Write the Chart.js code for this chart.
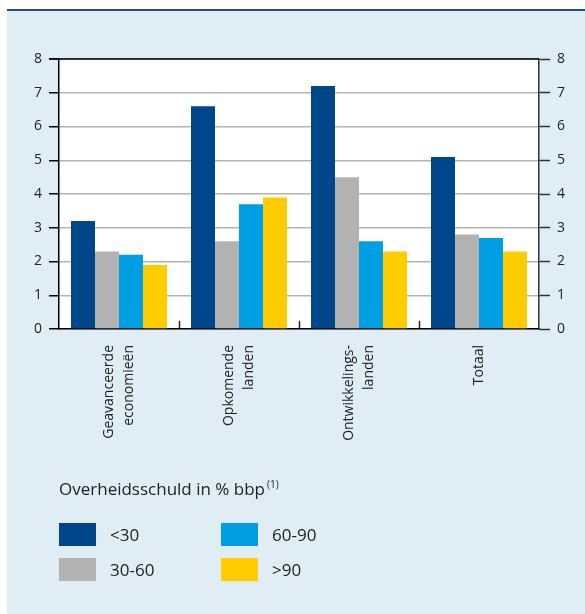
<!DOCTYPE html>
<html>
<head>
<meta charset="utf-8">
<title>Overheidsschuld</title>
<script src="https://cdn.jsdelivr.net/npm/chart.js@4.4.1/dist/chart.umd.min.js"></script>
<style>
  html, body { margin: 0; padding: 0; background: #ffffff; }
  #wrap { position: relative; width: 585px; height: 614px; overflow: hidden; font-family: "Open Sans", sans-serif; color: #222; }
  #panel { position: absolute; left: 7px; top: 9px; right: 0; bottom: 0; background: #e1edf5; border-top: 2px solid #1a4f8f; }
  #chart { position: absolute; left: 0; top: 0; }
  #legendTitle { position: absolute; left: 59px; top: 477px; font-size: 17px; line-height: 24px; white-space: nowrap; }
  #legendTitle sup { font-size: 10px; vertical-align: 0; position: relative; top: -7px; margin-left: 2px; }
  .sw { position: absolute; width: 37px; height: 23px; }
  .lb { position: absolute; font-size: 17px; line-height: 23px; white-space: nowrap; }
</style>
</head>
<body>
<div id="wrap">
  <div id="panel"></div>
  <canvas id="chart" width="585" height="614"></canvas>
  <div id="legendTitle">Overheidsschuld in % bbp<sup>(1)</sup></div>
  <div id="legend"></div>
</div>
<script>
// Categories (multi-line labels) and series
const categories = [
  ['Geavanceerde', 'economieën'],
  ['Opkomende', 'landen'],
  ['Ontwikkelings-', 'landen'],
  ['Totaal']
];
const seriesLabels = ['<30', '30-60', '60-90', '>90'];
const seriesColors = ['#00468b', '#b2b2b2', '#009fe3', '#ffcc00'];

const debtBelow30 = [3.2, 6.6, 7.2, 5.1];
const debt30to60  = [2.3, 2.6, 4.5, 2.8];
const debt60to90  = [2.2, 3.7, 2.6, 2.7];
const debtAbove90 = [1.9, 3.9, 2.3, 2.3];

const yMin = 0, yMax = 8, yStep = 1;

const seriesValues = [debtBelow30, debt30to60, debt60to90, debtAbove90];

const FONT = '"Open Sans", sans-serif';
const TEXT = '#222222';

// White plot background, black top frame line, group separators and rotated category labels
const framePlugin = {
  id: 'frame',
  beforeDraw(chart) {
    const { ctx, chartArea: a } = chart;
    ctx.save();
    ctx.fillStyle = '#ffffff';
    ctx.fillRect(a.left, a.top, a.right - a.left, a.bottom - a.top);
    ctx.restore();
  },
  afterDraw(chart) {
    const { ctx, chartArea: a } = chart;
    const xs = chart.scales.x;
    ctx.save();
    // top frame
    ctx.strokeStyle = '#000000';
    ctx.lineWidth = 1.5;
    ctx.beginPath();
    ctx.moveTo(a.left - 10, a.top);
    ctx.lineTo(a.right, a.top);
    ctx.stroke();
    // separators between groups, pointing into the plot
    ctx.lineWidth = 1.5;
    ctx.strokeStyle = '#222222';
    for (let i = 1; i < categories.length; i++) {
      const x = Math.round((xs.getPixelForTick(i - 1) + xs.getPixelForTick(i)) / 2) + 0.5;
      ctx.beginPath();
      ctx.moveTo(x, a.bottom - 8);
      ctx.lineTo(x, a.bottom);
      ctx.stroke();
    }
    // rotated category labels
    ctx.fillStyle = TEXT;
    ctx.font = '14px ' + FONT;
    ctx.textAlign = 'right';
    ctx.textBaseline = 'middle';
    const lh = 20;
    categories.forEach((lines, i) => {
      const cx = xs.getPixelForTick(i);
      lines.forEach((txt, j) => {
        const x = cx + (j - (lines.length - 1) / 2) * lh;
        ctx.save();
        ctx.translate(x, a.bottom + 16);
        ctx.rotate(-Math.PI / 2);
        ctx.fillText(txt, 0, 0);
        ctx.restore();
      });
    });
    ctx.restore();
  }
};

new Chart(document.getElementById('chart'), {
  type: 'bar',
  data: {
    labels: categories.map(c => c.join(' ')),
    datasets: seriesLabels.map((lab, i) => ({
      label: lab,
      data: seriesValues[i],
      backgroundColor: seriesColors[i],
      borderWidth: 0,
      categoryPercentage: 0.8,
      barPercentage: 1.0
    }))
  },
  options: {
    responsive: false,
    animation: false,
    devicePixelRatio: 1,
    layout: { padding: { top: 59, left: 0, right: 0, bottom: 0 } },
    plugins: {
      legend: { display: false },
      tooltip: { enabled: false },
      title: { display: false }
    },
    scales: {
      x: {
        position: 'bottom',
        grid: { display: true, drawOnChartArea: false, drawTicks: false },
        border: { display: true, color: '#000000', width: 1.5 },
        ticks: { display: false },
        afterFit(scale) { scale.height = 285; }
      },
      y: {
        position: 'left',
        min: yMin, max: yMax,
        grid: {
          color: '#b3b3b3', lineWidth: 1.5,
          tickColor: '#000000', tickLength: 10, tickWidth: 1.5
        },
        border: { display: true, color: '#000000', width: 1.5 },
        ticks: { stepSize: yStep, padding: 7, color: TEXT, font: { family: FONT, size: 14 } },
        afterFit(scale) { scale.width = 59; }
      },
      y2: {
        position: 'right',
        min: yMin, max: yMax,
        grid: {
          drawOnChartArea: false,
          tickColor: '#333333', tickLength: 11, tickWidth: 1.5
        },
        border: { display: true, color: '#333333', width: 1.5 },
        ticks: { stepSize: yStep, padding: 7, color: TEXT, font: { family: FONT, size: 14 } },
        afterFit(scale) { scale.width = 46; }
      }
    }
  },
  plugins: [framePlugin]
});

// Legend: two columns, two rows
const legend = document.getElementById('legend');
const colX = [59, 221], rowY = [523, 558], labelGap = 51;
seriesLabels.forEach((lab, i) => {
  const col = Math.floor(i / 2), row = i % 2;
  const sw = document.createElement('div');
  sw.className = 'sw';
  sw.style.left = colX[col] + 'px';
  sw.style.top = rowY[row] + 'px';
  sw.style.background = seriesColors[i];
  legend.appendChild(sw);
  const lb = document.createElement('div');
  lb.className = 'lb';
  lb.style.left = (colX[col] + labelGap) + 'px';
  lb.style.top = rowY[row] + 'px';
  lb.textContent = lab;
  legend.appendChild(lb);
});
</script>
</body>
</html>
